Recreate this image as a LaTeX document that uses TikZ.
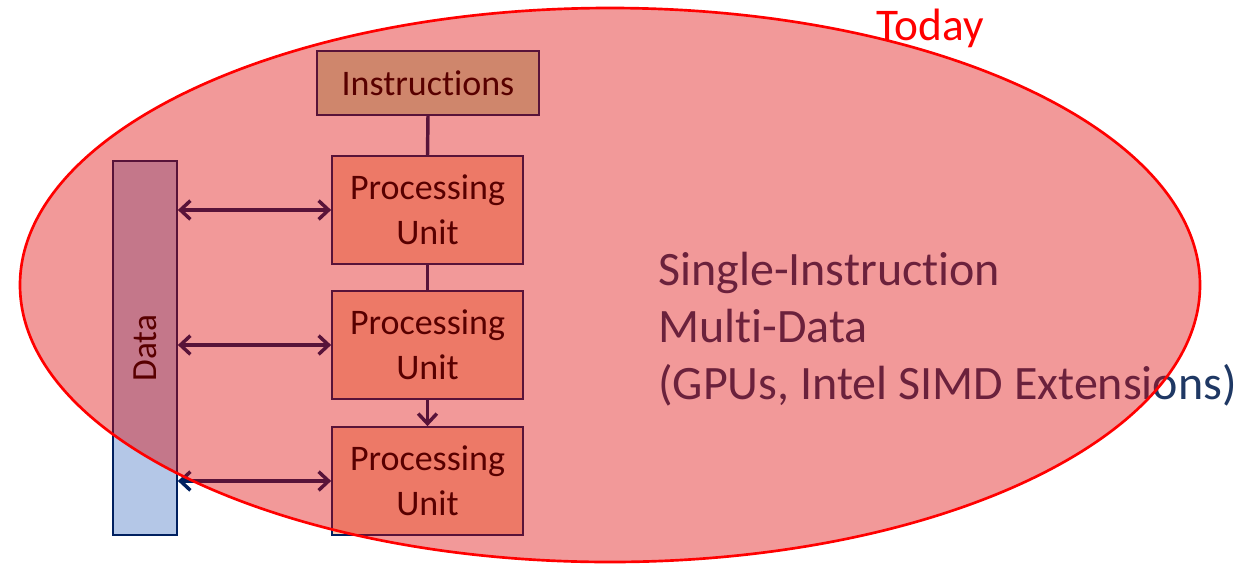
\documentclass[tikz,border=0pt]{standalone}
\usepackage{fontspec}
\setmainfont{Carlito}[Ligatures=NoCommon]
\usetikzlibrary{arrows.meta}
\definecolor{dkblue}{RGB}{31,56,100}
\definecolor{lnblue}{RGB}{0,32,96}
\definecolor{instrfill}{RGB}{197,224,180}
\definecolor{pufill}{RGB}{248,203,173}
\definecolor{datafill}{RGB}{180,199,231}
\definecolor{ovl}{RGB}{222,0,0}
\tikzset{
  box/.style={draw=lnblue, line width=1.3pt, inner sep=0pt, align=center, text=black},
  pubox/.style={box, fill=pufill, minimum width=191*0.75pt, minimum height=108*0.75pt, font=\fontsize{27}{33.5}\selectfont},
  conn/.style={draw=lnblue, line width=2.6pt},
  barb/.style={conn, {Straight Barb[length=7.5pt,width=14pt,line width=2.6pt]}-{Straight Barb[length=7.5pt,width=14pt,line width=2.6pt]}},
  downarr/.style={conn, -{Straight Barb[length=7.5pt,width=14pt,line width=2.6pt]}},
  bigtext/.style={anchor=base west, inner sep=0pt, text=dkblue, font=\fontsize{36}{43}\selectfont}
}
\begin{document}
\begin{tikzpicture}[x=0.75pt,y=-0.75pt]
\useasboundingbox (0,0) rectangle (1252,565);
% data bar
\node[box, fill=datafill, minimum width=64*0.75pt, minimum height=374*0.75pt] (data) at (145,348) {};
\node[rotate=90, text=black, font=\fontsize{26.5}{30}\selectfont, inner sep=0pt] (datalbl) at (data.center) {Data};
% instructions
\node[box, fill=instrfill, minimum width=222*0.75pt, minimum height=64*0.75pt, font=\fontsize{27}{33}\selectfont] (instr) at (428,83) {Instruct\kern0pt ions};
% processing units
\node[pubox] (pu1) at (427.5,210) {Processing\\Unit};
\node[pubox] (pu2) at (427.5,345) {Processing\\Unit};
\node[pubox] (pu3) at (427.5,481) {Processing\\Unit};
% vertical connectors
\draw[conn] (instr.south) -- (pu1.north);
\draw[conn] (pu1.south) -- (pu2.north);
\draw[downarr] (pu2.south) -- (pu3.north);
% data connectors
\draw[barb] (pu1.west -| data.east) -- (pu1.west);
\draw[barb] (pu2.west -| data.east) -- (pu2.west);
\draw[barb] (pu3.west -| data.east) -- (pu3.west);
% big text
\node[bigtext] (t1) at (658,285) {Single-Instruct\kern0pt ion};
\node[bigtext] (t2) at (658,342) {Mult\kern0pt i-Data};
\node[bigtext] (t3) at (658,399) {(GPUs, Intel SIMD Extensions)};
% overlay ellipse
\fill[ovl, fill opacity=0.4] (610,285) ellipse [x radius=590, y radius=277];
\draw[red, line width=2pt] (610,285) ellipse [x radius=590, y radius=277];
\node[text=red, font=\fontsize{34}{40}\selectfont, anchor=base, inner sep=0pt] (today) at (930,40) {Today};
\end{tikzpicture}
\end{document}
